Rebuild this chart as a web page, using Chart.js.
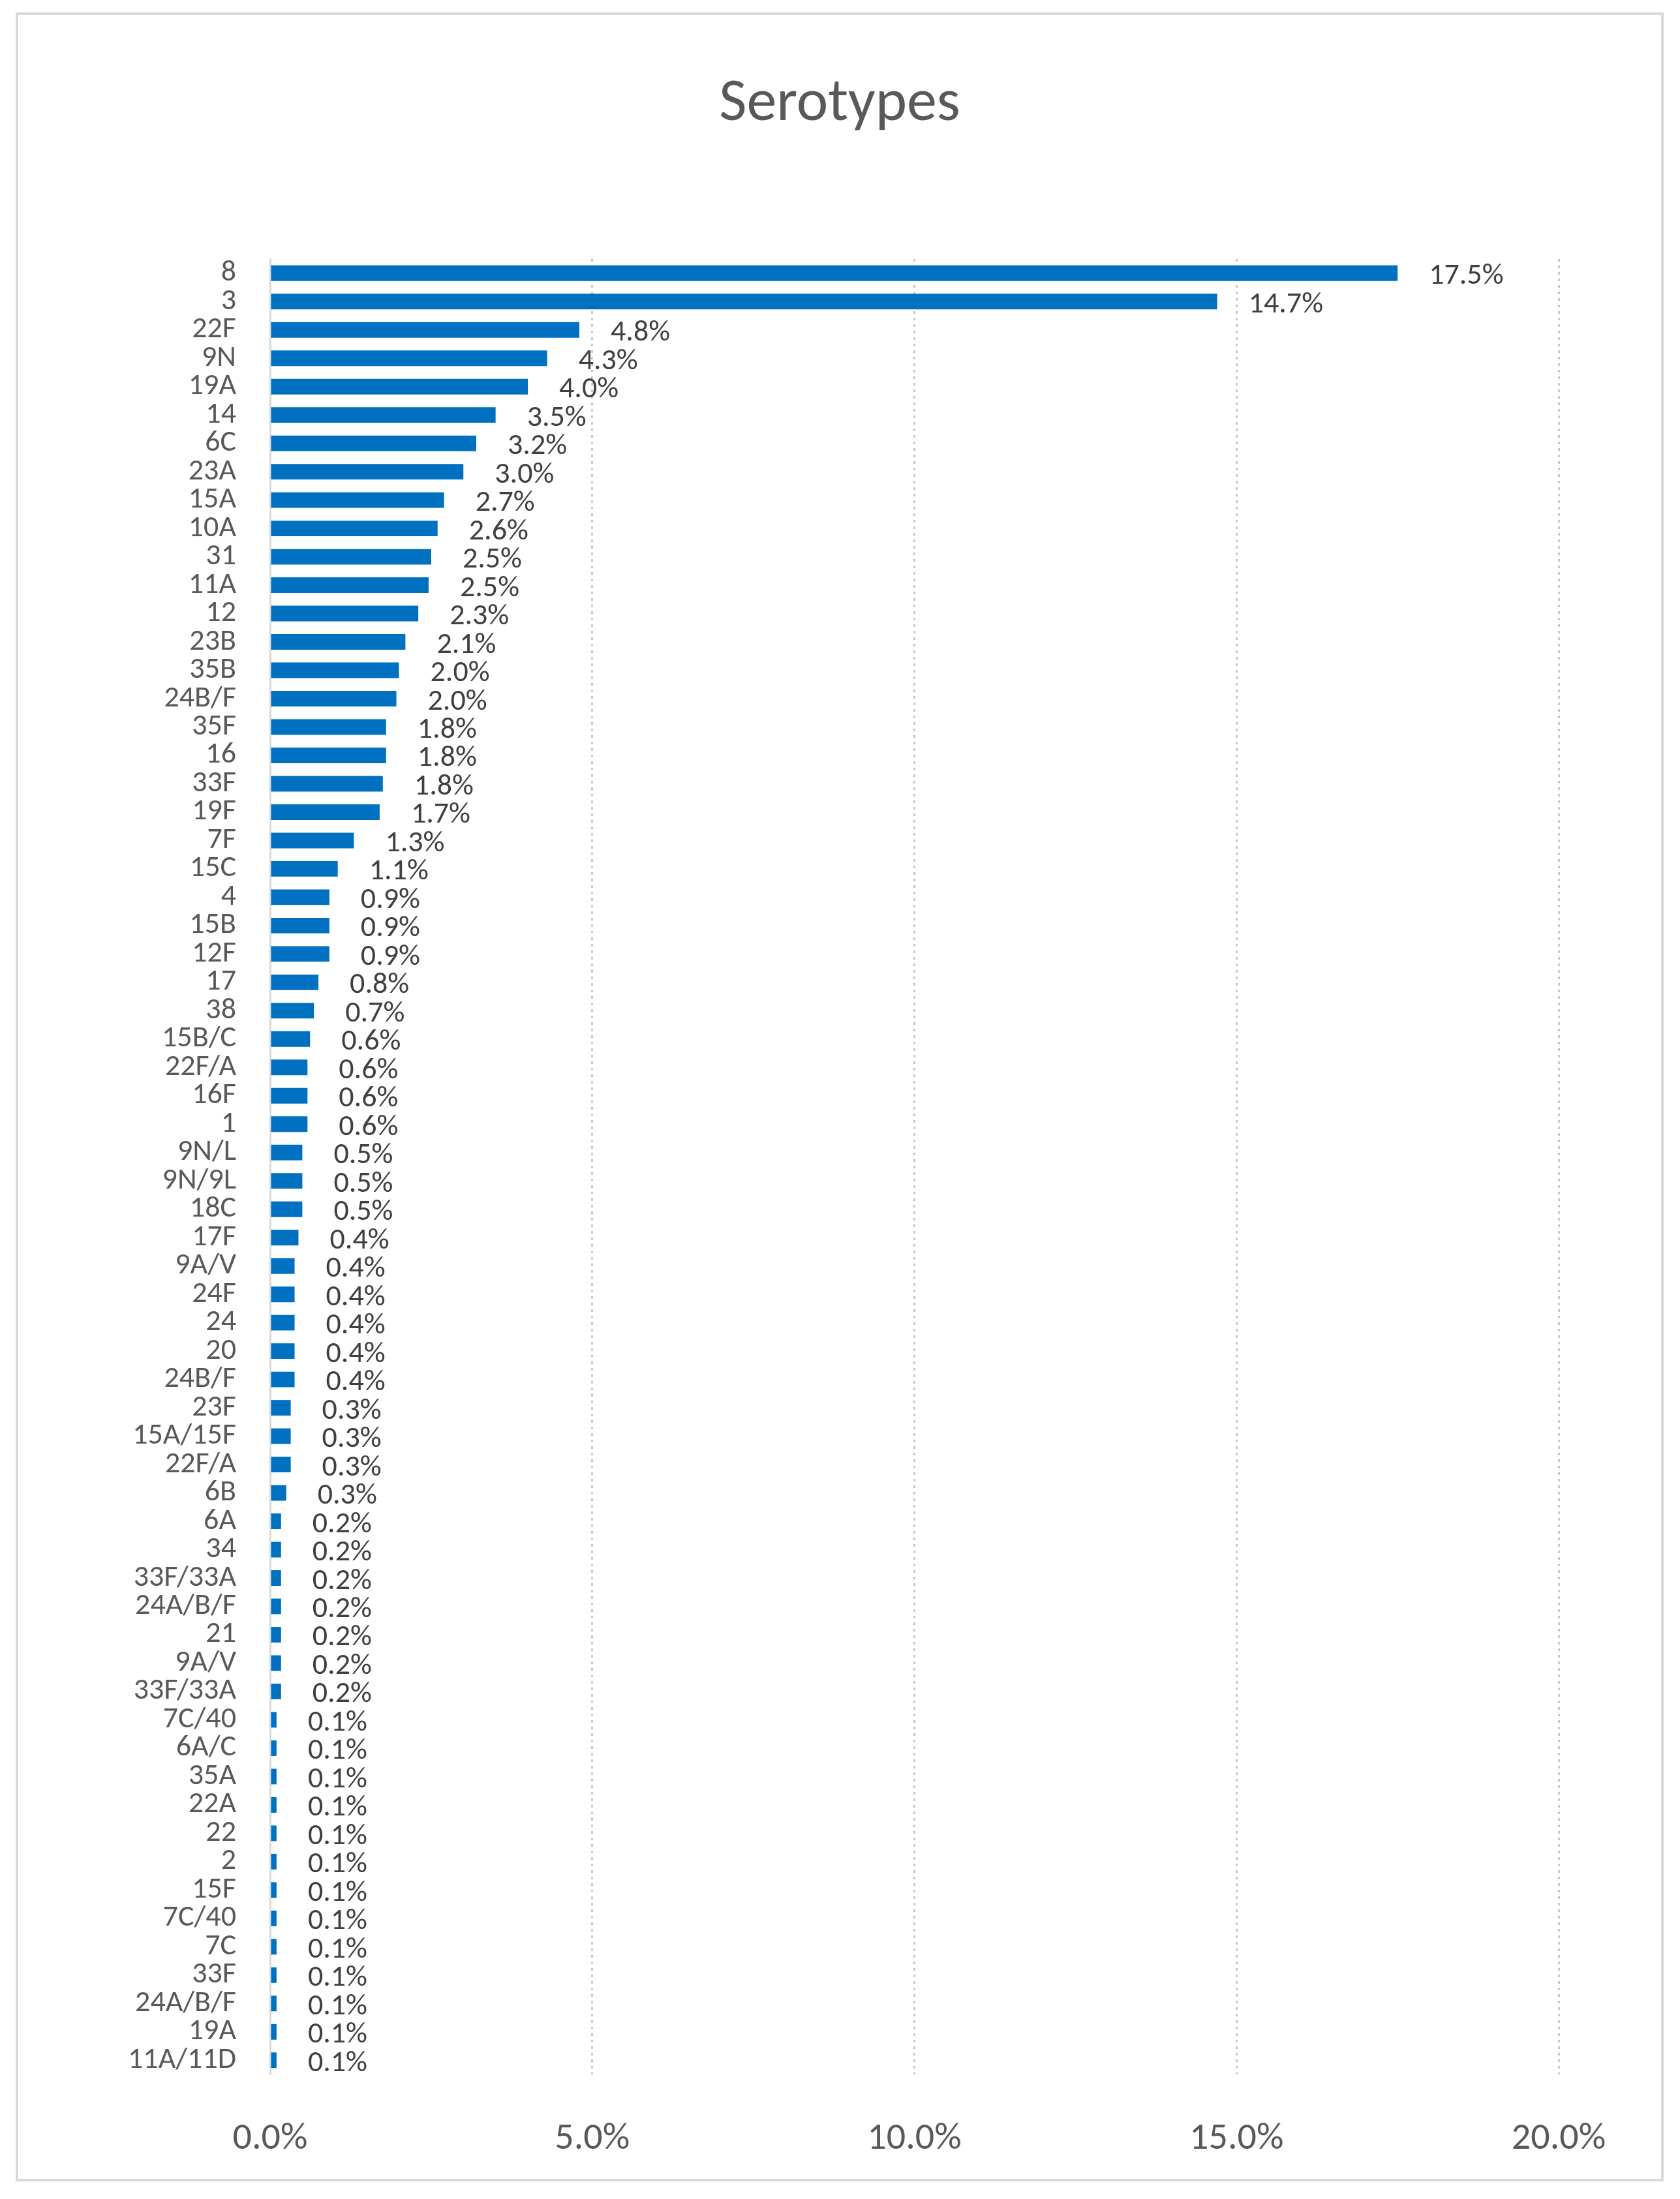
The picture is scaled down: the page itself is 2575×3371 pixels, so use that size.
<!DOCTYPE html>
<html>
<head>
<meta charset="utf-8">
<script src="https://cdn.jsdelivr.net/npm/chart.js@4"></script>
<style>
  body { margin: 0; background: #fff; }
</style>
</head>
<body>
<canvas id="chart" width="2575" height="3371"></canvas>
<script>
const serotypes = ['8', '3', '22F', '9N', '19A', '14', '6C', '23A', '15A', '10A', '31', '11A', '12', '23B', '35B', '24B/F',
  '35F', '16', '33F', '19F', '7F', '15C', '4', '15B', '12F', '17', '38', '15B/C', '22F/A', '16F', '1', '9N/L', '9N/9L',
  '18C', '17F', '9A/V', '24F', '24', '20', '24B/F', '23F', '15A/15F', '22F/A', '6B', '6A', '34', '33F/33A', '24A/B/F',
  '21', '9A/V', '33F/33A', '7C/40', '6A/C', '35A', '22A', '22', '2', '15F', '7C/40', '7C', '33F', '24A/B/F', '19A', '11A/11D'];

const shares = [17.5, 14.7, 4.8, 4.3, 4.0, 3.5, 3.2, 3.0, 2.7, 2.6, 2.5, 2.46, 2.3, 2.1, 2.0, 1.96,
  1.8, 1.8, 1.75, 1.7, 1.3, 1.05, 0.92, 0.92, 0.92, 0.75, 0.68, 0.62, 0.58, 0.58, 0.58, 0.5, 0.5,
  0.5, 0.44, 0.38, 0.38, 0.38, 0.38, 0.38, 0.32, 0.32, 0.32, 0.25, 0.17, 0.17, 0.17, 0.17,
  0.17, 0.17, 0.17, 0.1, 0.1, 0.1, 0.1, 0.1, 0.1, 0.1, 0.1, 0.1, 0.1, 0.1, 0.1, 0.1];

const xTicks = [0, 5, 10, 15, 20];

const decorations = {
  id: 'decorations',
  beforeDraw(chart) {
    const ctx = chart.ctx;
    ctx.save();
    ctx.fillStyle = '#fff';
    ctx.fillRect(0, 0, chart.width, chart.height);
    ctx.strokeStyle = '#d9d9d9';
    ctx.lineWidth = 4;
    ctx.strokeRect(26, 21, 2522, 3321);
    ctx.fillStyle = '#595959';
    ctx.font = '92px Calibri, "Open Sans", sans-serif';
    ctx.textAlign = 'center';
    ctx.textBaseline = 'middle';
    ctx.fillText('Serotypes', 1287, 161);
    ctx.restore();
  },
  afterDatasetsDraw(chart) {
    const ctx = chart.ctx;
    const meta = chart.getDatasetMeta(0);
    ctx.save();
    ctx.fillStyle = '#404040';
    ctx.font = '46px Calibri, "Open Sans", sans-serif';
    ctx.textBaseline = 'middle';
    meta.data.forEach((bar, i) => {
      ctx.fillText(shares[i].toFixed(1) + '%', bar.x + 48, bar.y + 5);
    });
    ctx.restore();
  }
};

new Chart(document.getElementById('chart'), {
  type: 'bar',
  data: {
    labels: serotypes,
    datasets: [{
      data: shares,
      backgroundColor: '#0070c0',
      categoryPercentage: 0.55,
      barPercentage: 1
    }]
  },
  options: {
    indexAxis: 'y',
    responsive: false,
    animation: false,
    devicePixelRatio: 1,
    layout: { padding: { top: 397, right: 186, left: 0, bottom: 0 } },
    plugins: { legend: { display: false }, tooltip: { enabled: false } },
    scales: {
      x: {
        min: 0, max: 20,
        afterBuildTicks(axis) { axis.ticks = xTicks.map(v => ({ value: v })); },
        afterFit(axis) { axis.height = 191; },
        ticks: {
          padding: 65,
          color: '#595959',
          font: { size: 58, family: 'Calibri, "Open Sans", sans-serif' },
          callback: v => v.toFixed(1) + '%'
        },
        grid: { color: '#c8c8c8', lineWidth: 3, drawTicks: false },
        border: { display: false, dash: [4, 6] }
      },
      y: {
        afterFit(axis) { axis.width = 414; },
        ticks: {
          autoSkip: false,
          padding: 52,
          color: '#595959',
          font: { size: 46, family: 'Calibri, "Open Sans", sans-serif' }
        },
        grid: { display: false, drawTicks: false },
        border: { display: true, color: '#d9d9d9', width: 3 }
      }
    }
  },
  plugins: [decorations]
});
</script>
</body>
</html>
